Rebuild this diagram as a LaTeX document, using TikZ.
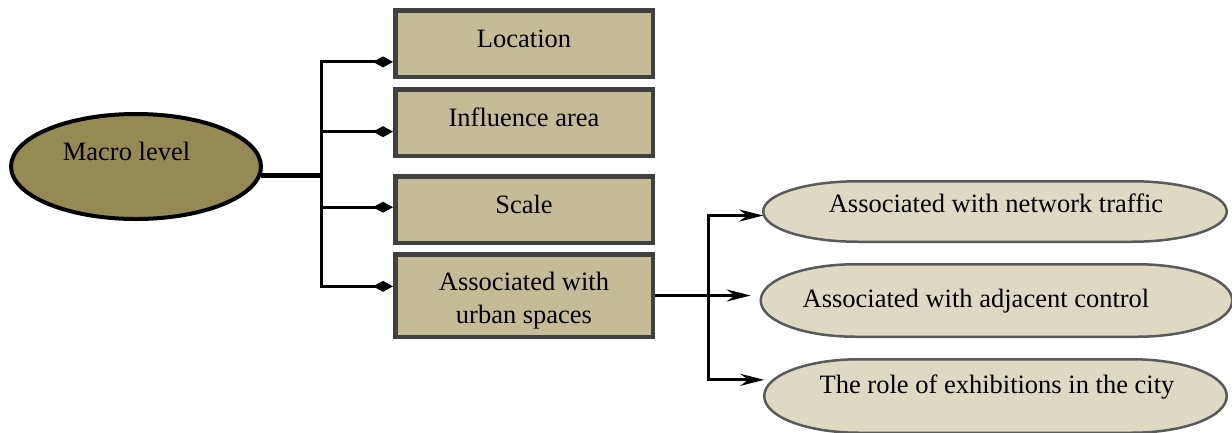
\documentclass[tikz,border=0pt]{standalone}
\usepackage{fontspec}
\setmainfont{Liberation Serif}
\usetikzlibrary{arrows.meta,calc,shapes.geometric}
\definecolor{macrofill}{HTML}{958A53}
\definecolor{boxfill}{HTML}{C4BC96}
\definecolor{pillfill}{HTML}{DDD9C3}
\definecolor{boxline}{HTML}{404040}
\definecolor{pillline}{HTML}{5A5A5A}
\tikzset{
  lbl/.style={font=\fontsize{26.5}{33}\selectfont, inner sep=0pt, align=center},
  boxnode/.style={draw=boxline, line width=4.5pt, fill=boxfill, inner sep=0pt,
    minimum width=257.5pt, minimum height=66.5pt},
  macronode/.style={ellipse, draw=black, line width=4pt, fill=macrofill, inner sep=0pt,
    minimum width=250pt, minimum height=105pt},
  pillnode/.style={rectangle, draw=none, inner sep=0pt, outer sep=0pt},
  pilldraw/.style={draw=pillline, line width=2.5pt, fill=pillfill},
  conn/.style={draw=black, line width=3pt},
  diamtip/.style={conn, -{Diamond[length=20pt,width=11pt]}},
  arrtip/.style={conn, -{Stealth[length=24pt,width=12pt,inset=8pt]}},
}
\newcommand{\pillshape}[1]{%
  \path[pilldraw] let \p1=(#1.west), \p2=(#1.north east), \p3=(#1.south) in
   (\x1,\y1) .. controls (\x1,{\y1+0.56*(\y2-\y1)}) and (\x1+42pt,\y2) .. (\x1+95pt,\y2)
   -- (\x2-95pt,\y2) .. controls (\x2-42pt,\y2) and (\x2,{\y1+0.56*(\y2-\y1)}) .. (\x2,\y1)
   .. controls (\x2,{\y1+0.56*(\y3-\y1)}) and (\x2-42pt,\y3) .. (\x2-95pt,\y3)
   -- (\x1+95pt,\y3) .. controls (\x1+42pt,\y3) and (\x1,{\y1+0.56*(\y3-\y1)}) .. (\x1,\y1) -- cycle;}
\begin{document}
\begin{tikzpicture}[x=1pt,y=-1pt]
\useasboundingbox (0,0) rectangle (1232,432);
\clip (0,0) rectangle (1232,432);
\fill[white] (0,0) rectangle (1232,432);

% left part
\node[macronode] (macro) at (136,166.5) {};
\node[boxnode] (loc) at (524,43.5) {};
\node[boxnode] (infl) at (524,122.5) {};
\node[boxnode] (scale) at (524,209.5) {};
\node[boxnode, minimum height=82.5pt] (assoc) at (524,295.5) {};

\path (macro.-4.5) -- ++(60,0) coordinate (hub);
\draw[conn, line width=4.5pt] (macro.-4.5) -- (hub);
\draw[diamtip] (hub) |- (loc.188.5);
\draw[diamtip] (hub) |- (infl.184.6);
\draw[diamtip] (hub) |- (scale.179.5);
\draw[diamtip] (hub) |- (assoc.176.7);

% right part
\node[pillnode, minimum width=463.5pt, minimum height=60.5pt] (top) at (995,211.5) {};
\node[pillnode, minimum width=471.5pt, minimum height=72.5pt] (mid) at (996.5,300.5) {};
\node[pillnode, minimum width=462.5pt, minimum height=73.5pt] (bot) at (995.5,396) {};
\pillshape{top}
\pillshape{mid}
\pillshape{bot}

\path (assoc.east) -- ++(53,0) coordinate (rbus);
\draw[arrtip, shorten >=10pt] (assoc.east) -- (assoc.east -| mid.west);
\draw[arrtip] (rbus) |- (top.181.5);
\draw[arrtip] (rbus) |- (bot.176.8);

% texts
\node[lbl, anchor=base] (tmacro) at (126.5,160) {Macro level};
\node[lbl, anchor=base] (tloc) at (524,47) {Location};
\node[lbl, anchor=base] (tinfl) at (524,126) {Influence area};
\node[lbl, anchor=base] (tscale) at (524,213) {Scale};
\node[lbl] (tassoc) at (524,300.4) {Associated with\\urban spaces};
\node[lbl, anchor=base] (ttop) at (996,212) {Associated with network traffic};
\node[lbl, anchor=base] (tmid) at (976,307) {Associated with adjacent control};
\node[lbl, anchor=base] (tbot) at (997,393) {The role of exhibitions in the city};
\end{tikzpicture}
\end{document}
